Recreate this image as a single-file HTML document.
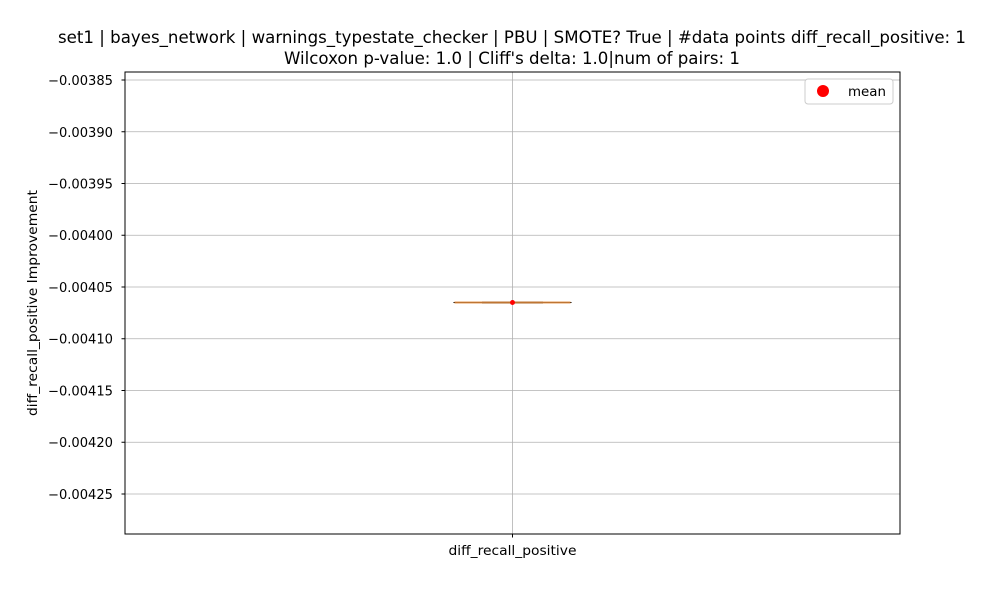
<!DOCTYPE html>
<html><head><meta charset="utf-8"><style>
body{margin:0;background:#fff;font-family:"Liberation Sans","DejaVu Sans",sans-serif}
svg text{font-family:"DejaVu Sans","Liberation Sans",sans-serif}
</style></head><body>
<svg id="c" width="1000" height="600"></svg>
<script>
const categories=["diff_recall_positive"];
const medians=[-0.004065];
const q1s=[-0.004065];
const q3s=[-0.004065];
const means=[-0.004065];
const yTicks=[-0.00385,-0.00390,-0.00395,-0.00400,-0.00405,-0.00410,-0.00415,-0.00420,-0.00425];
const L=125,R=900,T=72,B=534,yMax=-0.00384227,yMin=-0.00428865;
const y=v=>T+(yMax-v)/(yMax-yMin)*(B-T);
const x=i=>L+(i+0.5)*(R-L)/categories.length;
const s=document.getElementById('c');const NS="http://www.w3.org/2000/svg";
function add(tag,attrs,txt){const e=document.createElementNS(NS,tag);for(const k in attrs)e.setAttribute(k,attrs[k]);if(txt!=null)e.textContent=txt;s.appendChild(e);return e;}
let e;
yTicks.forEach(t=>{const yy=y(t);
e=add('line',{x1:L,x2:R,y1:yy,y2:yy,stroke:'#b0b0b0','stroke-width':0.8});
add('line',{x1:L-3.5,x2:L,y1:yy,y2:yy,stroke:'#000'});
e=add('text',{x:L-12,y:yy+5,'text-anchor':'end','font-size':13,textLength:65,lengthAdjust:'spacingAndGlyphs'},'−'+Math.abs(t).toFixed(5));});
categories.forEach((c,i)=>{const xx=x(i);
e=add('line',{x1:xx,x2:xx,y1:T,y2:B,stroke:'#b0b0b0','stroke-width':0.8});
add('line',{x1:xx,x2:xx,y1:B,y2:B+3.5,stroke:'#000'});
e=add('text',{x:xx,y:B+21,'text-anchor':'middle','font-size':13,textLength:128,lengthAdjust:'spacingAndGlyphs'},c);
const bw=30,cw=59;
e=add('line',{x1:xx-cw,x2:xx+cw,y1:y(q1s[i]),y2:y(q1s[i]),stroke:'#000','stroke-width':1});
e=add('rect',{x:xx-bw,y:y(q3s[i])-0.5,width:bw*2,height:Math.max(1,y(q1s[i])-y(q3s[i])+1),fill:'none',stroke:'#000','stroke-width':1});
e=add('line',{x1:xx-cw+1,x2:xx+cw-1,y1:y(medians[i]),y2:y(medians[i]),stroke:'#e08a3c','stroke-width':2,opacity:0.85});
e=add('circle',{cx:xx,cy:y(means[i]),r:2.5,fill:'red'});});
e=add('rect',{x:L,y:T,width:R-L,height:B-T,fill:'none',stroke:'#000','stroke-width':1});
e=add('text',{x:512,y:43,'text-anchor':'middle','font-size':16.5,textLength:908,lengthAdjust:'spacingAndGlyphs'},"set1 | bayes_network | warnings_typestate_checker | PBU | SMOTE? True | #data points diff_recall_positive: 1");
e=add('text',{x:512,y:64,'text-anchor':'middle','font-size':16.5,textLength:456,lengthAdjust:'spacingAndGlyphs'},"Wilcoxon p-value: 1.0 | Cliff's delta: 1.0|num of pairs: 1");
e=add('text',{x:37,y:303,'text-anchor':'middle','font-size':13,textLength:226,lengthAdjust:'spacingAndGlyphs',transform:'rotate(-90 37 303)'},"diff_recall_positive Improvement");
e=add('rect',{x:805,y:79,width:88,height:25,rx:3,fill:'#fff',stroke:'#ccc'});
e=add('circle',{cx:823,cy:91,r:6,fill:'red'});
e=add('text',{x:848,y:96,'font-size':13,textLength:38,lengthAdjust:'spacingAndGlyphs'},"mean");
</script></body></html>
